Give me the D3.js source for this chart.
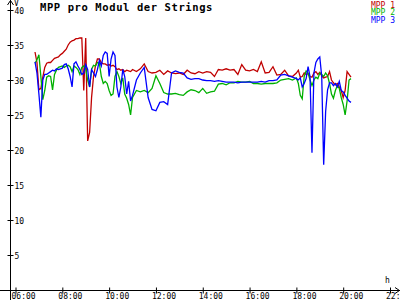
<!DOCTYPE html>
<html>
<head>
<meta charset="utf-8">
<script src="https://cdn.jsdelivr.net/npm/d3@7"></script>
<style>
  body { margin: 0; background: #fff; }
  svg { display: block; }
  text { font-family: "DejaVu Sans Mono", monospace; fill: #000; }
</style>
</head>
<body>
<svg id="chart"></svg>
<script>
// sample times (5 min in the busy morning/evening, 10 min in between)
const times = [
  "06:50","06:55","07:00","07:05","07:10","07:15","07:20","07:25","07:30","07:35",
  "07:40","07:45","07:50","07:55","08:00","08:05","08:10","08:15","08:20","08:25",
  "08:30","08:35","08:40","08:45","08:50","08:55","09:00","09:05","09:10","09:15",
  "09:20","09:25","09:30","09:35","09:40","09:45","09:50","09:55","10:00","10:05",
  "10:10","10:15","10:20","10:25","10:30","10:35","10:40","10:45","10:50","10:55",
  "11:00",
  "11:10","11:20","11:30","11:40","11:50","12:00","12:10","12:20","12:30","12:40",
  "12:50","13:00","13:10","13:20","13:30","13:40","13:50","14:00","14:10","14:20",
  "14:30","14:40","14:50","15:00","15:10","15:20","15:30","15:40","15:50","16:00",
  "16:10","16:20","16:30","16:40","16:50","17:00","17:10","17:20","17:30","17:40",
  "17:50",
  "18:00","18:05","18:10","18:15","18:20","18:25","18:30","18:35","18:40","18:45",
  "18:50","18:55","19:00","19:05","19:10","19:15","19:20","19:25","19:30","19:35",
  "19:40","19:45","19:50","19:55","20:00","20:05","20:10","20:15","20:20"
];

const mpp1 = [
  34.0,32.5,28.6,28.8,30.4,31.8,32.4,32.5,32.5,32.8,
  33.1,33.2,33.3,33.6,33.8,34.1,34.4,35.0,35.4,35.6,
  35.7,35.9,35.9,36.0,36.0,28.5,36.0,21.3,22.5,27.5,
  30.5,32.0,33.0,33.0,32.5,32.3,32.3,32.1,32.2,32.0,
  32.1,31.9,31.5,31.6,31.4,31.5,31.2,31.4,31.3,31.2,
  31.5,
  31.2,31.6,32.3,31.2,31.0,31.1,31.4,30.8,31.3,31.0,
  30.9,31.0,30.8,31.4,31.0,30.9,31.2,31.0,31.2,31.1,
  30.5,31.5,31.4,31.6,31.4,31.5,30.8,32.2,31.4,31.3,
  31.5,31.2,32.6,31.0,31.1,31.9,30.7,30.8,31.4,30.6,
  30.5,
  31.0,31.4,30.4,30.5,31.0,30.8,30.9,30.5,30.4,31.0,
  31.2,30.8,31.1,30.6,30.3,30.4,30.5,31.2,30.0,29.6,
  29.3,29.5,29.0,28.5,27.5,28.5,31.2,30.8,30.4
];

const mpp2 = [
  32.4,32.9,33.6,30.5,27.2,28.5,30.4,30.6,30.5,28.6,
  30.8,31.4,31.8,31.9,32.0,31.8,32.0,32.1,31.9,31.2,
  32.0,31.8,31.5,30.8,31.8,32.0,31.6,30.0,29.0,31.5,
  32.1,32.0,32.5,32.4,30.5,29.5,29.8,29.5,28.5,27.8,
  28.0,30.5,31.2,30.5,29.5,30.3,28.0,27.4,26.5,25.0,
  27.5,
  28.5,28.3,28.5,28.2,28.8,30.6,29.5,28.2,28.0,28.0,
  28.1,27.9,27.8,28.3,28.6,28.5,28.2,28.8,28.1,28.3,
  28.4,29.4,29.5,29.3,29.6,29.6,29.8,29.7,29.7,29.8,
  29.5,29.5,29.4,29.5,29.5,29.5,29.6,30.0,30.1,30.2,
  30.0,
  30.3,29.5,27.8,27.3,30.5,31.3,31.0,30.0,29.2,30.0,
  30.4,30.2,31.0,30.8,30.5,31.0,30.6,29.5,28.0,27.4,
  28.5,29.2,28.8,27.5,26.5,25.0,27.0,30.0,30.2
];

const mpp3 = [
  32.6,31.0,28.0,24.7,30.0,30.8,30.8,31.0,31.2,31.4,
  31.3,31.6,31.5,31.6,31.7,32.2,32.3,31.6,30.5,29.0,
  32.3,32.6,32.0,31.5,30.8,31.0,32.2,31.5,29.0,31.5,
  31.0,30.5,31.5,32.8,32.0,33.5,34.0,33.8,30.5,33.0,
  34.0,33.5,29.0,27.5,29.0,31.5,30.5,28.0,29.8,27.0,
  27.8,
  30.0,31.0,31.8,27.5,25.8,25.6,26.8,26.9,26.5,31.0,
  31.3,31.1,31.0,30.3,30.1,30.2,30.2,30.0,29.9,29.9,
  29.8,29.9,29.8,29.7,29.7,29.7,29.6,29.7,29.7,29.7,
  29.7,29.7,29.8,29.7,29.9,29.9,30.0,30.7,30.8,30.6,
  30.4,
  30.2,30.0,30.3,29.0,29.5,30.2,31.9,30.5,19.6,31.0,
  32.5,33.0,33.3,30.5,17.9,25.5,28.6,29.6,29.6,29.2,
  29.5,29.0,29.8,28.5,28.3,27.8,27.4,27.0,26.8
];

const seriesNames = ["MPP 1", "MPP 2", "MPP 3"];
const seriesColors = ["#c00000", "#00b000", "#0000ff"];
const xTicks = ["06:00","08:00","10:00","12:00","14:00","16:00","18:00","20:00","22:00"];
const yTicks = [5, 10, 15, 20, 25, 30, 35, 40];

const width = 400, height = 300;
const axisX = 10.5, axisY = 290.5;

const svg = d3.select("#chart")
    .attr("width", width)
    .attr("height", height);

const parse = d3.timeParse("%H:%M");

const x = d3.scaleTime()
    .domain([parse("06:00"), parse("22:00")])
    .range([15.5, 390]);

const y = d3.scaleLinear()
    .domain([0, 40])
    .range([290, 10]);

// axis lines with arrows
svg.append("line")
    .attr("x1", axisX).attr("x2", axisX)
    .attr("y1", 0).attr("y2", height)
    .attr("stroke", "#000");
svg.append("line")
    .attr("x1", 0).attr("x2", width)
    .attr("y1", axisY).attr("y2", axisY)
    .attr("stroke", "#000");
svg.append("polyline")
    .attr("points", `${axisX - 3},5 ${axisX},0.5 ${axisX + 3},5`)
    .attr("fill", "none").attr("stroke", "#000");
svg.append("polyline")
    .attr("points", `395,${axisY - 3} 399.5,${axisY} 395,${axisY + 3}`)
    .attr("fill", "none").attr("stroke", "#000");

// X axis
const gx = svg.append("g")
    .attr("transform", `translate(0,${axisY})`)
    .call(d3.axisBottom(x)
        .tickValues(xTicks.map(parse))
        .tickFormat(d3.timeFormat("%H:%M"))
        .tickSize(3));
gx.select(".domain").remove();
gx.selectAll(".tick line").attr("y1", -3).attr("y2", 3).attr("stroke", "#000");
gx.selectAll(".tick text")
    .attr("text-anchor", "start")
    .attr("x", -4.5)
    .attr("y", 8.5)
    .attr("dy", 0)
    .attr("font-size", "8px")
    .attr("font-family", "DejaVu Sans Mono")
    .attr("fill", "#000");

// Y axis
const gy = svg.append("g")
    .attr("transform", `translate(${axisX},0)`)
    .call(d3.axisLeft(y).tickValues(yTicks).tickSize(3));
gy.select(".domain").remove();
gy.selectAll(".tick line").attr("x1", -3).attr("x2", 3).attr("stroke", "#000");
gy.selectAll(".tick text")
    .attr("text-anchor", "start")
    .attr("x", 4)
    .attr("dy", "0.4em")
    .attr("font-size", "8px")
    .attr("font-family", "DejaVu Sans Mono")
    .attr("fill", "#000");

// unit labels
svg.append("text")
    .attr("x", 14).attr("y", 6)
    .attr("font-size", "8px")
    .text("V");
svg.append("text")
    .attr("x", 385).attr("y", 283)
    .attr("font-size", "8px")
    .text("h");

// Title
svg.append("text")
    .attr("x", 40).attr("y", 11)
    .attr("font-size", "10.5px")
    .attr("letter-spacing", "0.6px")
    .style("font-weight", "bold")
    .text("MPP pro Modul der Strings");

// Lines
const series = [mpp1, mpp2, mpp3];
const line = d3.line()
    .x(d => x(parse(d.t)))
    .y(d => y(d.v));

series.forEach((vals, i) => {
    const pts = times.map((t, j) => ({t: t, v: vals[j]}));
    svg.append("path")
        .datum(pts)
        .attr("fill", "none")
        .attr("stroke", seriesColors[i])
        .attr("stroke-width", 1.3)
        .attr("stroke-linejoin", "miter")
        .attr("d", line);
});

// Legend
seriesNames.forEach((name, i) => {
    svg.append("text")
        .attr("x", 395)
        .attr("y", 7.5 + i * 7.5)
        .attr("text-anchor", "end")
        .attr("font-size", "8px")
        .style("fill", seriesColors[i])
        .text(name);
});
</script>
</body>
</html>
